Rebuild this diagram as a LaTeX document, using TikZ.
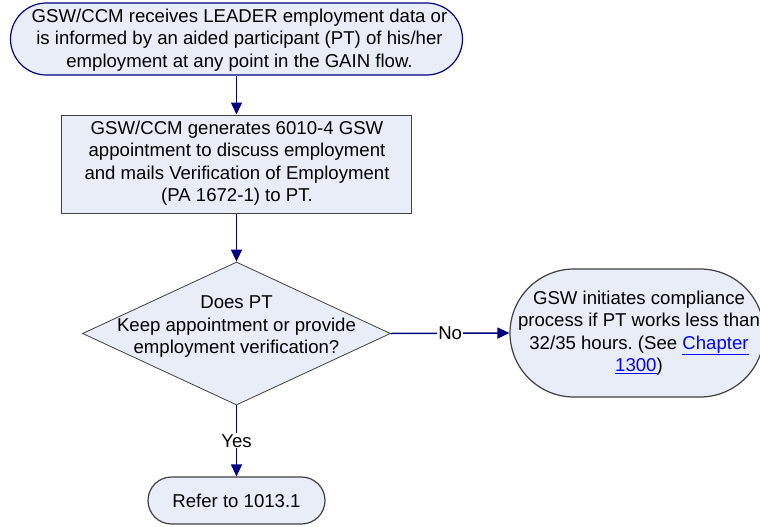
\documentclass[tikz,border=0pt]{standalone}
\usepackage{fontspec}
\setmainfont{Liberation Sans}
\usetikzlibrary{shapes.geometric,arrows.meta}
\definecolor{boxfill}{HTML}{E8EDF7}
\definecolor{flowline}{HTML}{000080}
\definecolor{linkblue}{HTML}{0000FF}
\newcommand{\xref}[1]{\textcolor{linkblue}{\underline{#1}}}
\tikzset{
  txt/.style={font=\fontsize{18.6}{22.5}\selectfont, align=center, inner sep=0pt},
  terminal/.style={draw=flowline, line width=1.2pt, fill=boxfill, rectangle, inner sep=0pt},
  procbox/.style={draw=black!75, line width=1pt, fill=boxfill, rectangle, inner sep=0pt},
  decision/.style={draw=black!75, line width=0.8pt, fill=boxfill, diamond, inner sep=0pt},
  flow/.style={draw=flowline, line width=1.5pt, -{Triangle[length=12pt,width=11pt]}},
  edgelabel/.style={txt, fill=white, inner sep=1pt}
}
\begin{document}
\begin{tikzpicture}[x=1pt,y=-1pt]
\useasboundingbox (0,0) rectangle (760,527);
\clip (0,0) rectangle (760,527);

% start terminal
\node[terminal, minimum width=452pt, minimum height=72pt, rounded corners=36pt] (start) at (236.5,39) {};
\node[txt] (starttext) at (239.5,40) {GSW/CCM receives LEADER employment data or\\is informed by an aided participant (PT) of his/her\\employment at any point in the GAIN flow.};

% appointment process box
\node[procbox, minimum width=350pt, minimum height=98pt] (appt) at (236.5,164) {};
\node[txt] (appttext) at (237,163) {GSW/CCM generates 6010-4 GSW\\appointment to discuss employment\\and mails Verification of Employment\\(PA 1672-1) to PT.};

% decision
\node[decision, minimum width=308pt, minimum height=143pt] (dec) at (236.5,333.5) {};
\node[txt] (dectext) at (236.5,327) {Does PT\\Keep appointment or provide\\employment verification?};

% compliance terminal
\node[terminal, draw=black!75, minimum width=254pt, minimum height=128pt, rounded corners=64pt] (comp) at (637,333) {};
\node[txt] (comptext) at (639,333) {GSW initiates compliance\\process if PT works less than\\32/35 hours.\ (See \xref{Chapter}\\\xref{1300})};

% end terminal
\node[terminal, draw=black!75, minimum width=177pt, minimum height=47pt, rounded corners=23.5pt] (refer) at (236.5,500.5) {};
\node[txt] (refertext) at (236.5,500.5) {Refer to 1013.1};

% connectors
\draw[flow] (start.south) -- (appt.north);
\draw[flow] (appt.south) -- (dec.north);
\draw[flow] (dec.east) -- node[edgelabel] {No} (comp.west);
\draw[flow] (dec.south) -- node[edgelabel] {Yes} (refer.north);
\end{tikzpicture}
\end{document}
